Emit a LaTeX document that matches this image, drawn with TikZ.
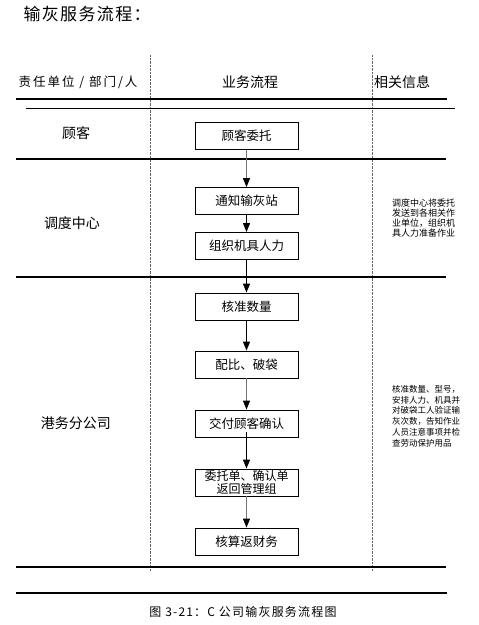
\documentclass[tikz,border=0pt]{standalone}
\usepackage{fontspec}
\setmainfont{Noto Sans CJK SC}
\usetikzlibrary{arrows.meta, positioning}

\tikzset{
  box/.style={draw, line width=0.8pt, minimum width=103pt, minimum height=27pt,
              inner sep=1pt, align=center, font=\fontsize{12.5}{13}\selectfont},
  unit/.style={font=\fontsize{14}{16}\selectfont},
  rule/.style={line width=2pt},
  note/.style={anchor=north west, inner sep=0pt, align=left},
  flow/.style={-{Triangle[length=9pt, width=7pt, color=black]}, black, line width=0.9pt},
  flowgray/.style={flow, draw=black!55}
}

\begin{document}
\begin{tikzpicture}[x=1pt, y=-1pt]
  \useasboundingbox (0,0) rectangle (479,625);

  % Title
  \node[anchor=west, font=\fontsize{17}{19}\selectfont\addfontfeature{LetterSpace=8}] (title) at (20,14) {输灰服务流程：};

  % Column separators
  \draw[densely dotted, black!60] (150.5,55) -- (150.5,571);
  \draw[densely dotted, black!60] (372,55) -- (372,571);

  % Header
  \node[font=\fontsize{12.5}{14}\selectfont\addfontfeature{LetterSpace=16}] (hunit) at (78,82) {责任单位 / 部门/人};
  \node[unit] (hflow) at (250,82) {业务流程};
  \node[unit, anchor=west, inner sep=0pt] (hinfo) at (374,82) {相关信息};

  % Rules
  \draw[rule] (16,99) -- (447,99);
  \draw[line width=1pt] (26,108) -- (455,108);
  \draw[rule] (16,159) -- (446,159);
  \draw[rule] (16,276.5) -- (446,276.5);
  \draw[rule] (16,567) -- (446,567);
  \draw[rule] (16,593) -- (447,593);

  % Units
  \node[unit] (ucust) at (76,133) {顾客};
  \node[unit] (udisp) at (72,223) {调度中心};
  \node[unit] (uport) at (76,423) {港务分公司};

  % Flow boxes
  \node[box] (entrust) at (246.5,136) {顾客委托};
  \node[box] (notify)  at (246.5,201) {通知输灰站};
  \node[box] (organize) at (246.5,246) {组织机具人力};
  \node[box] (check)   at (246.5,306.5) {核准数量};
  \node[box] (mix)     at (246.5,364.5) {配比、破袋};
  \node[box] (deliver) at (246.5,423.5) {交付顾客确认};
  \node[box, font=\fontsize{12}{12.5}\selectfont] (return) at (246.5,482.5) {委托单、确认单\\返回管理组};
  \node[box] (account) at (246.5,541.5) {核算返财务};

  % Arrows
  \draw[flowgray] (entrust) -- (notify);
  \draw[flow] (notify) -- (organize);
  \draw[flow] (organize) -- (check);
  \draw[flow] (check) -- (mix);
  \draw[flowgray] (mix) -- (deliver);
  \draw[flow] ([yshift=5pt]deliver.south) -- (return);
  \draw[flowgray] (return) -- (account);

  % Notes
  \node[note, font=\fontsize{9}{9.8}\selectfont] (ndisp) at (392,199) {调度中心将委托\\发送到各相关作\\业单位，组织机\\具人力准备作业};
  \node[note, font=\fontsize{8.5}{10.8}\selectfont] (nport) at (392,385) {核准数量、型号，\\安排人力、机具并\\对破袋工人验证输\\灰次数，告知作业\\人员注意事项并检\\查劳动保护用品};

  % Caption
  \node[font=\fontsize{12}{14}\selectfont\addfontfeature{LetterSpace=10}] (caption) at (243,612) {图 3-21：C 公司输灰服务流程图};
\end{tikzpicture}
\end{document}
